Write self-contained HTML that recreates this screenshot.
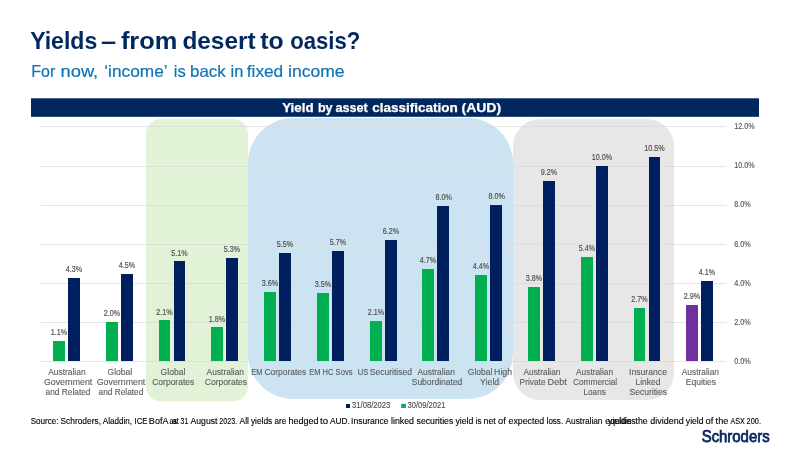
<!DOCTYPE html>
<html lang="en"><head><meta charset="utf-8"><title>Yields – from desert to oasis?</title>
<style>
html,body{margin:0;padding:0;background:#fff;}
body{width:800px;height:450px;overflow:hidden;position:relative;font-family:"Liberation Sans",sans-serif;}
svg{position:absolute;left:0;top:0;display:block;}
text{font-family:"Liberation Sans",sans-serif;}
.dl{font-size:8.2px;fill:#505050;stroke:#505050;stroke-width:0.17px;}
.ax{font-size:8.3px;fill:#595959;stroke:#595959;stroke-width:0.15px;}
.cl{font-size:8.6px;fill:#5c5c5c;stroke:#5c5c5c;stroke-width:0.12px;}
.lg{font-size:8.4px;fill:#4a4a4a;stroke:#4a4a4a;stroke-width:0.12px;}
.src{font-size:8.4px;fill:#000;stroke:#000;stroke-width:0.12px;}
</style></head><body>
<svg width="800" height="450" viewBox="0 0 800 450">

<rect x="0" y="0" width="800" height="450" fill="#fff"/>
<text y="49.1" font-size="24" fill="#00285E" font-weight="bold"><tspan x="30.17" textLength="67.16" lengthAdjust="spacingAndGlyphs">Yields</tspan> <tspan x="100.92" textLength="15.16" lengthAdjust="spacingAndGlyphs">–</tspan> <tspan x="120.92" textLength="56.41" lengthAdjust="spacingAndGlyphs">from</tspan> <tspan x="182.42" textLength="73.16" lengthAdjust="spacingAndGlyphs">desert</tspan> <tspan x="260.17" textLength="23.41" lengthAdjust="spacingAndGlyphs">to</tspan> <tspan x="290.17" textLength="70.16" lengthAdjust="spacingAndGlyphs">oasis?</tspan></text>
<text y="76.9" font-size="16.5" fill="#0F74B5" stroke="#0F74B5" stroke-width="0.2"><tspan x="31.26" textLength="23.98" lengthAdjust="spacingAndGlyphs">For</tspan> <tspan x="60.51" textLength="37.73" lengthAdjust="spacingAndGlyphs">now,</tspan> <tspan x="104.26" textLength="62.73" lengthAdjust="spacingAndGlyphs">‘income’</tspan> <tspan x="173.76" textLength="11.98" lengthAdjust="spacingAndGlyphs">is</tspan> <tspan x="190.01" textLength="35.73" lengthAdjust="spacingAndGlyphs">back</tspan> <tspan x="230.51" textLength="12.73" lengthAdjust="spacingAndGlyphs">in</tspan> <tspan x="246.76" textLength="36.48" lengthAdjust="spacingAndGlyphs">fixed</tspan> <tspan x="288.01" textLength="56.48" lengthAdjust="spacingAndGlyphs">income</tspan></text>
<rect x="31" y="98.3" width="728" height="18.5" fill="#00285E"/>
<text y="112.1" font-size="13.3" fill="#fff" font-weight="bold" stroke="#fff" stroke-width="0.25"><tspan x="282.15" textLength="31.45" lengthAdjust="spacingAndGlyphs">Yield</tspan> <tspan x="317.90" textLength="14.70" lengthAdjust="spacingAndGlyphs">by</tspan> <tspan x="335.40" textLength="32.45" lengthAdjust="spacingAndGlyphs">asset</tspan> <tspan x="372.20" textLength="85.70" lengthAdjust="spacingAndGlyphs">classification</tspan> <tspan x="461.50" textLength="39.60" lengthAdjust="spacingAndGlyphs">(AUD)</tspan></text>
<rect x="146" y="119" width="102" height="282.5" rx="15" ry="15" fill="#E1F2D6"/>
<rect x="248" y="118" width="265" height="281" rx="45" ry="45" fill="#CCE4F1"/>
<rect x="513" y="119" width="161" height="281" rx="27" ry="27" fill="#E7E7E7"/>
<rect x="40.4" y="361" width="686" height="1" fill="#D7D7D7" fill-opacity="0.62"/>
<rect x="40.4" y="322" width="686" height="1" fill="#D7D7D7" fill-opacity="0.62"/>
<rect x="40.4" y="283" width="686" height="1" fill="#D7D7D7" fill-opacity="0.62"/>
<rect x="40.4" y="244" width="686" height="1" fill="#D7D7D7" fill-opacity="0.62"/>
<rect x="40.4" y="205" width="686" height="1" fill="#D7D7D7" fill-opacity="0.62"/>
<rect x="40.4" y="166" width="686" height="1" fill="#D7D7D7" fill-opacity="0.62"/>
<rect x="40.4" y="126" width="686" height="1" fill="#D7D7D7" fill-opacity="0.62"/>
<text class="ax" x="734.2" y="364.0" textLength="16.6" lengthAdjust="spacingAndGlyphs">0.0%</text>
<text class="ax" x="734.2" y="325.0" textLength="16.6" lengthAdjust="spacingAndGlyphs">2.0%</text>
<text class="ax" x="734.2" y="286.0" textLength="16.6" lengthAdjust="spacingAndGlyphs">4.0%</text>
<text class="ax" x="734.2" y="247.0" textLength="16.6" lengthAdjust="spacingAndGlyphs">6.0%</text>
<text class="ax" x="734.2" y="207.4" textLength="16.6" lengthAdjust="spacingAndGlyphs">8.0%</text>
<text class="ax" x="734.2" y="168.4" textLength="20.6" lengthAdjust="spacingAndGlyphs">10.0%</text>
<text class="ax" x="734.2" y="129.0" textLength="20.6" lengthAdjust="spacingAndGlyphs">12.0%</text>
<rect x="53" y="341" width="12" height="20" fill="#00B050"/>
<rect x="68" y="278" width="12" height="83" fill="#001F5F"/>
<rect x="106" y="322" width="12" height="39" fill="#00B050"/>
<rect x="121" y="274" width="12" height="87" fill="#001F5F"/>
<rect x="159" y="320" width="11" height="41" fill="#00B050"/>
<rect x="174" y="261" width="11" height="100" fill="#001F5F"/>
<rect x="211" y="327" width="12" height="34" fill="#00B050"/>
<rect x="226" y="258" width="12" height="103" fill="#001F5F"/>
<rect x="264" y="292" width="12" height="69" fill="#00B050"/>
<rect x="279" y="253" width="12" height="108" fill="#001F5F"/>
<rect x="317" y="293" width="12" height="68" fill="#00B050"/>
<rect x="332" y="251" width="12" height="110" fill="#001F5F"/>
<rect x="370" y="321" width="12" height="40" fill="#00B050"/>
<rect x="385" y="240" width="12" height="121" fill="#001F5F"/>
<rect x="422" y="269" width="12" height="92" fill="#00B050"/>
<rect x="437" y="206" width="12" height="155" fill="#001F5F"/>
<rect x="475" y="275" width="12" height="86" fill="#00B050"/>
<rect x="490" y="205" width="12" height="156" fill="#001F5F"/>
<rect x="528" y="287" width="12" height="74" fill="#00B050"/>
<rect x="543" y="181" width="12" height="180" fill="#001F5F"/>
<rect x="581" y="257" width="12" height="104" fill="#00B050"/>
<rect x="596" y="166" width="12" height="195" fill="#001F5F"/>
<rect x="634" y="308" width="11" height="53" fill="#00B050"/>
<rect x="649" y="157" width="11" height="204" fill="#001F5F"/>
<rect x="686" y="305" width="12" height="56" fill="#7030A0"/>
<rect x="701" y="281" width="12" height="80" fill="#001F5F"/>
<text class="dl" x="50.8" y="335.0" textLength="16.4" lengthAdjust="spacingAndGlyphs">1.1%</text>
<text class="dl" x="65.8" y="272.0" textLength="16.4" lengthAdjust="spacingAndGlyphs">4.3%</text>
<text class="dl" x="103.8" y="316.0" textLength="16.4" lengthAdjust="spacingAndGlyphs">2.0%</text>
<text class="dl" x="118.8" y="268.0" textLength="16.4" lengthAdjust="spacingAndGlyphs">4.5%</text>
<text class="dl" x="156.3" y="314.9" textLength="16.4" lengthAdjust="spacingAndGlyphs">2.1%</text>
<text class="dl" x="171.3" y="255.9" textLength="16.4" lengthAdjust="spacingAndGlyphs">5.1%</text>
<text class="dl" x="208.8" y="321.5" textLength="16.4" lengthAdjust="spacingAndGlyphs">1.8%</text>
<text class="dl" x="223.8" y="252.0" textLength="16.4" lengthAdjust="spacingAndGlyphs">5.3%</text>
<text class="dl" x="261.8" y="286.0" textLength="16.4" lengthAdjust="spacingAndGlyphs">3.6%</text>
<text class="dl" x="276.8" y="247.0" textLength="16.4" lengthAdjust="spacingAndGlyphs">5.5%</text>
<text class="dl" x="314.8" y="287.0" textLength="16.4" lengthAdjust="spacingAndGlyphs">3.5%</text>
<text class="dl" x="329.8" y="245.0" textLength="16.4" lengthAdjust="spacingAndGlyphs">5.7%</text>
<text class="dl" x="367.8" y="315.0" textLength="16.4" lengthAdjust="spacingAndGlyphs">2.1%</text>
<text class="dl" x="382.8" y="234.0" textLength="16.4" lengthAdjust="spacingAndGlyphs">6.2%</text>
<text class="dl" x="419.8" y="263.0" textLength="16.4" lengthAdjust="spacingAndGlyphs">4.7%</text>
<text class="dl" x="435.5" y="200.0" textLength="16.4" lengthAdjust="spacingAndGlyphs">8.0%</text>
<text class="dl" x="472.8" y="269.0" textLength="16.4" lengthAdjust="spacingAndGlyphs">4.4%</text>
<text class="dl" x="488.5" y="199.0" textLength="16.4" lengthAdjust="spacingAndGlyphs">8.0%</text>
<text class="dl" x="525.8" y="281.0" textLength="16.4" lengthAdjust="spacingAndGlyphs">3.8%</text>
<text class="dl" x="540.8" y="175.0" textLength="16.4" lengthAdjust="spacingAndGlyphs">9.2%</text>
<text class="dl" x="578.8" y="251.0" textLength="16.4" lengthAdjust="spacingAndGlyphs">5.4%</text>
<text class="dl" x="591.8" y="160.0" textLength="20.4" lengthAdjust="spacingAndGlyphs">10.0%</text>
<text class="dl" x="631.3" y="302.0" textLength="16.4" lengthAdjust="spacingAndGlyphs">2.7%</text>
<text class="dl" x="644.3" y="151.0" textLength="20.4" lengthAdjust="spacingAndGlyphs">10.5%</text>
<text class="dl" x="683.8" y="299.0" textLength="16.4" lengthAdjust="spacingAndGlyphs">2.9%</text>
<text class="dl" x="698.8" y="275.0" textLength="16.4" lengthAdjust="spacingAndGlyphs">4.1%</text>
<text class="cl" y="375.1" ><tspan x="48.26" textLength="37.32" lengthAdjust="spacingAndGlyphs">Australian</tspan></text>
<text class="cl" y="385.1" ><tspan x="43.91" textLength="48.37" lengthAdjust="spacingAndGlyphs">Government</tspan></text>
<text class="cl" y="395.1" ><tspan x="45.61" textLength="44.87" lengthAdjust="spacingAndGlyphs">and Related</tspan></text>
<text class="cl" y="375.1" ><tspan x="107.61" textLength="24.57" lengthAdjust="spacingAndGlyphs">Global</tspan></text>
<text class="cl" y="385.1" ><tspan x="96.71" textLength="48.57" lengthAdjust="spacingAndGlyphs">Government</tspan></text>
<text class="cl" y="395.1" ><tspan x="98.51" textLength="44.87" lengthAdjust="spacingAndGlyphs">and Related</tspan></text>
<text class="cl" y="375.1" ><tspan x="160.61" textLength="24.77" lengthAdjust="spacingAndGlyphs">Global</tspan></text>
<text class="cl" y="385.1" ><tspan x="152.21" textLength="42.07" lengthAdjust="spacingAndGlyphs">Corporates</tspan></text>
<text class="cl" y="375.1" ><tspan x="206.61" textLength="37.37" lengthAdjust="spacingAndGlyphs">Australian</tspan></text>
<text class="cl" y="385.1" ><tspan x="204.71" textLength="42.42" lengthAdjust="spacingAndGlyphs">Corporates</tspan></text>
<text class="cl" y="375.1" ><tspan x="251.26" textLength="11.27" lengthAdjust="spacingAndGlyphs">EM</tspan> <tspan x="264.41" textLength="41.87" lengthAdjust="spacingAndGlyphs">Corporates</tspan></text>
<text class="cl" y="375.1" ><tspan x="309.36" textLength="11.27" lengthAdjust="spacingAndGlyphs">EM</tspan> <tspan x="322.51" textLength="10.87" lengthAdjust="spacingAndGlyphs">HC</tspan> <tspan x="335.61" textLength="16.87" lengthAdjust="spacingAndGlyphs">Sovs</tspan></text>
<text class="cl" y="375.1" ><tspan x="357.81" textLength="10.57" lengthAdjust="spacingAndGlyphs">US</tspan> <tspan x="369.71" textLength="42.27" lengthAdjust="spacingAndGlyphs">Securitised</tspan></text>
<text class="cl" y="375.1" ><tspan x="417.51" textLength="37.37" lengthAdjust="spacingAndGlyphs">Australian</tspan></text>
<text class="cl" y="385.1" ><tspan x="411.71" textLength="50.67" lengthAdjust="spacingAndGlyphs">Subordinated</tspan></text>
<text class="cl" y="375.1" ><tspan x="467.81" textLength="24.57" lengthAdjust="spacingAndGlyphs">Global</tspan> <tspan x="494.11" textLength="17.87" lengthAdjust="spacingAndGlyphs">High</tspan></text>
<text class="cl" y="385.1" ><tspan x="480.11" textLength="19.12" lengthAdjust="spacingAndGlyphs">Yield</tspan></text>
<text class="cl" y="375.1" ><tspan x="523.51" textLength="36.97" lengthAdjust="spacingAndGlyphs">Australian</tspan></text>
<text class="cl" y="385.1" ><tspan x="519.61" textLength="25.97" lengthAdjust="spacingAndGlyphs">Private</tspan> <tspan x="547.61" textLength="19.17" lengthAdjust="spacingAndGlyphs">Debt</tspan></text>
<text class="cl" y="375.1" ><tspan x="576.01" textLength="37.12" lengthAdjust="spacingAndGlyphs">Australian</tspan></text>
<text class="cl" y="385.1" ><tspan x="573.01" textLength="44.17" lengthAdjust="spacingAndGlyphs">Commercial</tspan></text>
<text class="cl" y="395.1" ><tspan x="583.51" textLength="22.27" lengthAdjust="spacingAndGlyphs">Loans</tspan></text>
<text class="cl" y="375.1" ><tspan x="629.01" textLength="38.02" lengthAdjust="spacingAndGlyphs">Insurance</tspan></text>
<text class="cl" y="385.1" ><tspan x="635.46" textLength="24.92" lengthAdjust="spacingAndGlyphs">Linked</tspan></text>
<text class="cl" y="395.1" ><tspan x="629.51" textLength="37.52" lengthAdjust="spacingAndGlyphs">Securities</tspan></text>
<text class="cl" y="375.1" ><tspan x="681.81" textLength="37.17" lengthAdjust="spacingAndGlyphs">Australian</tspan></text>
<text class="cl" y="385.1" ><tspan x="685.86" textLength="30.17" lengthAdjust="spacingAndGlyphs">Equities</tspan></text>
<rect x="346" y="404" width="4" height="4" fill="#001F5F"/>
<text class="lg" y="408.3" ><tspan x="352.02" textLength="38.36" lengthAdjust="spacingAndGlyphs">31/08/2023</tspan></text>
<rect x="401.2" y="403.8" width="4.7" height="4.2" fill="#00B050"/>
<text class="lg" y="408.3" ><tspan x="407.47" textLength="37.91" lengthAdjust="spacingAndGlyphs">30/09/2021</tspan></text>
<text class="src" y="424" ><tspan x="30.72" textLength="27.91" lengthAdjust="spacingAndGlyphs">Source:</tspan> <tspan x="60.52" textLength="40.46" lengthAdjust="spacingAndGlyphs">Schroders,</tspan> <tspan x="102.82" textLength="29.31" lengthAdjust="spacingAndGlyphs">Aladdin,</tspan> <tspan x="134.52" textLength="13.01" lengthAdjust="spacingAndGlyphs">ICE</tspan> <tspan x="148.87" textLength="19.11" lengthAdjust="spacingAndGlyphs">BofA</tspan> <tspan x="169.52" textLength="7.46" lengthAdjust="spacingAndGlyphs">as</tspan> <tspan x="172.22" textLength="6.46" lengthAdjust="spacingAndGlyphs">at</tspan> <tspan x="180.52" textLength="7.76" lengthAdjust="spacingAndGlyphs">31</tspan> <tspan x="190.52" textLength="26.96" lengthAdjust="spacingAndGlyphs">August</tspan> <tspan x="219.37" textLength="17.91" lengthAdjust="spacingAndGlyphs">2023.</tspan> <tspan x="239.52" textLength="9.36" lengthAdjust="spacingAndGlyphs">All</tspan> <tspan x="250.92" textLength="21.36" lengthAdjust="spacingAndGlyphs">yields</tspan> <tspan x="274.52" textLength="11.76" lengthAdjust="spacingAndGlyphs">are</tspan> <tspan x="288.42" textLength="30.16" lengthAdjust="spacingAndGlyphs">hedged</tspan> <tspan x="320.12" textLength="8.06" lengthAdjust="spacingAndGlyphs">to</tspan> <tspan x="330.12" textLength="19.76" lengthAdjust="spacingAndGlyphs">AUD.</tspan> <tspan x="351.12" textLength="37.51" lengthAdjust="spacingAndGlyphs">Insurance</tspan> <tspan x="391.02" textLength="22.96" lengthAdjust="spacingAndGlyphs">linked</tspan> <tspan x="416.62" textLength="36.66" lengthAdjust="spacingAndGlyphs">securities</tspan> <tspan x="455.47" textLength="17.91" lengthAdjust="spacingAndGlyphs">yield</tspan> <tspan x="475.77" textLength="5.81" lengthAdjust="spacingAndGlyphs">is</tspan> <tspan x="483.62" textLength="12.16" lengthAdjust="spacingAndGlyphs">net</tspan> <tspan x="498.02" textLength="7.76" lengthAdjust="spacingAndGlyphs">of</tspan> <tspan x="508.52" textLength="35.76" lengthAdjust="spacingAndGlyphs">expected</tspan> <tspan x="546.62" textLength="16.51" lengthAdjust="spacingAndGlyphs">loss.</tspan> <tspan x="565.52" textLength="36.96" lengthAdjust="spacingAndGlyphs">Australian</tspan> <tspan x="605.22" textLength="30.56" lengthAdjust="spacingAndGlyphs">equities</tspan> <tspan x="608.12" textLength="17.76" lengthAdjust="spacingAndGlyphs">yield</tspan> <tspan x="626.12" textLength="5.26" lengthAdjust="spacingAndGlyphs">is</tspan> <tspan x="635.52" textLength="12.16" lengthAdjust="spacingAndGlyphs">the</tspan> <tspan x="650.22" textLength="33.46" lengthAdjust="spacingAndGlyphs">dividend</tspan> <tspan x="685.87" textLength="17.71" lengthAdjust="spacingAndGlyphs">yield</tspan> <tspan x="705.62" textLength="7.76" lengthAdjust="spacingAndGlyphs">of</tspan> <tspan x="715.62" textLength="12.66" lengthAdjust="spacingAndGlyphs">the</tspan> <tspan x="730.52" textLength="14.36" lengthAdjust="spacingAndGlyphs">ASX</tspan> <tspan x="746.62" textLength="14.36" lengthAdjust="spacingAndGlyphs">200.</tspan></text>
<text y="441.7" font-size="15.8" fill="#0A2860" stroke="#0A2860" stroke-width="0.75"><tspan x="701.69" textLength="67.92" lengthAdjust="spacingAndGlyphs">Schroders</tspan></text>
</svg>
</body></html>
